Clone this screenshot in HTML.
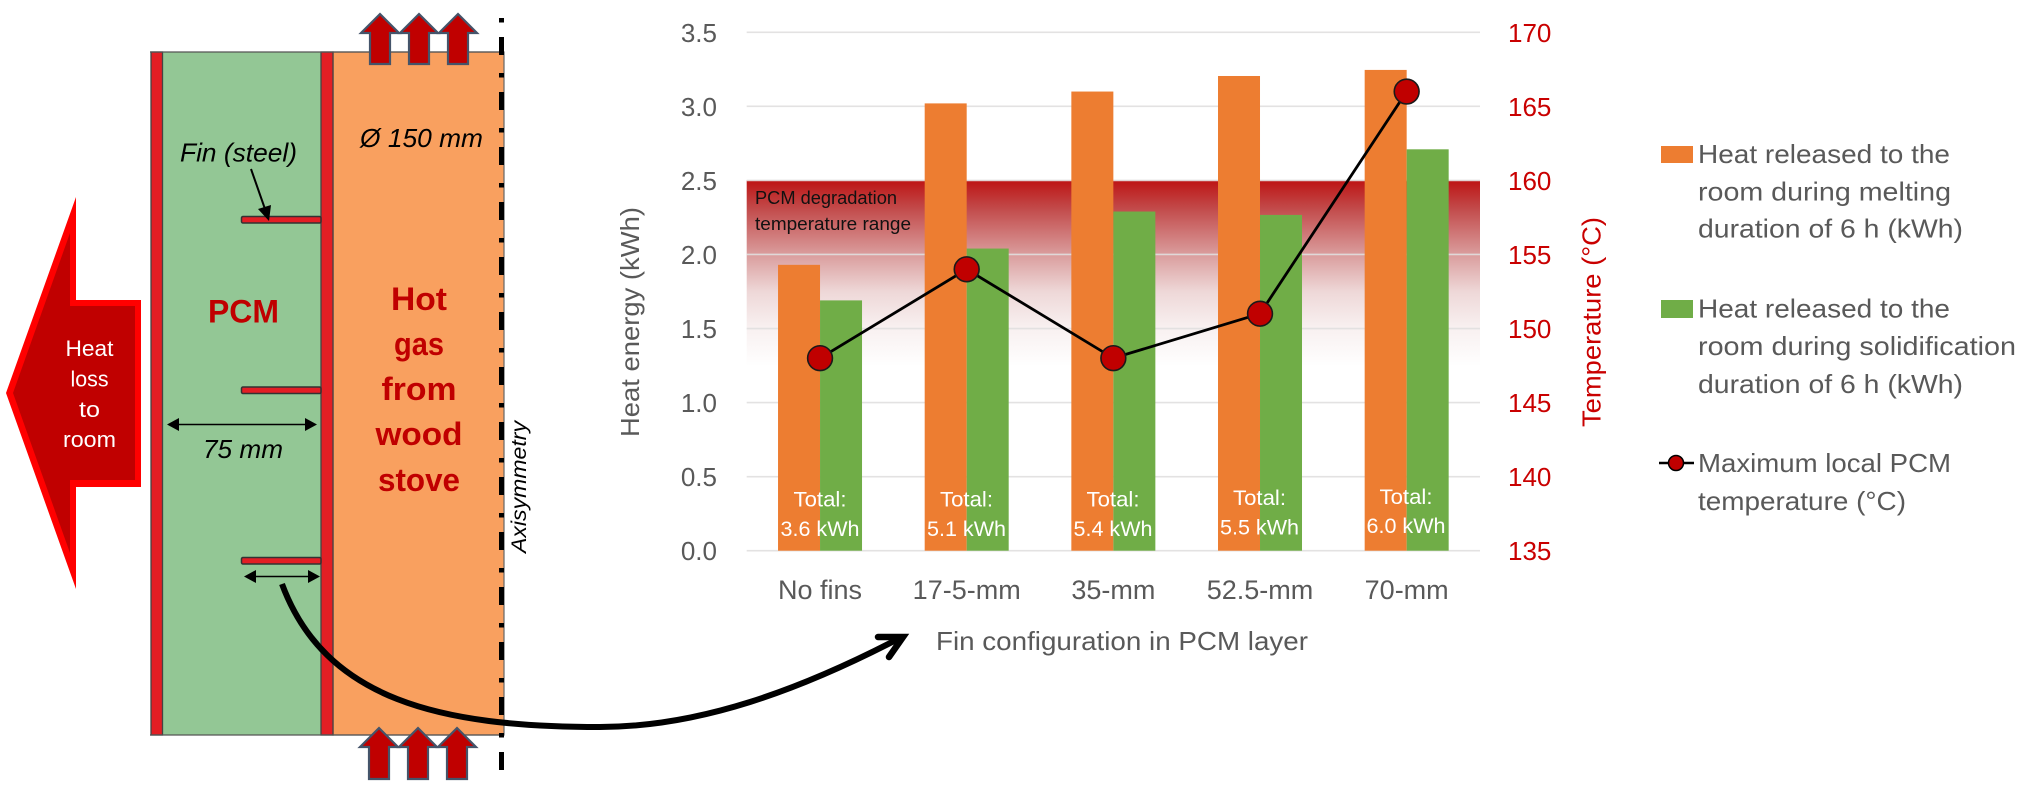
<!DOCTYPE html>
<html lang="en">
<head>
<meta charset="utf-8">
<title>PCM fin configuration chart</title>
<style>
html,body{margin:0;padding:0;background:#fff;}
svg{display:block;}
text{font-family:"Liberation Sans",sans-serif;}
.d{font-size:26px;font-style:italic;fill:#000;}
.hot{font-size:32px;font-weight:bold;fill:#c00000;text-anchor:middle;}
.loss{font-size:22px;fill:#fff;text-anchor:middle;}
.lg{font-size:26px;fill:#595959;}
.tot{font-size:21px;fill:#fff;text-anchor:middle;}
</style>
</head>
<body>
<svg id="root" xmlns="http://www.w3.org/2000/svg" width="2024" height="807" viewBox="0 0 2024 807">
<defs>
<linearGradient id="band" x1="0" y1="0" x2="0" y2="1">
<stop offset="0" stop-color="#bd1414"/>
<stop offset="0.15" stop-color="#c24a4a"/>
<stop offset="0.39" stop-color="#d99a9a"/>
<stop offset="0.6" stop-color="#eed8d8"/>
<stop offset="0.79" stop-color="#f8f0f0"/>
<stop offset="1" stop-color="#ffffff"/>
</linearGradient>
</defs>

<g>
<polygon points="6,393 76,197 76,300 141,300 141,487 76,487 76,589" fill="#ff0000"/>
<polygon points="13,393 70,233 70,306 135,306 135,480 70,480 70,553" fill="#c00000"/>
<text class="loss" x="89.5" y="356" textLength="48" lengthAdjust="spacingAndGlyphs">Heat</text>
<text class="loss" x="89.5" y="386.5" textLength="38" lengthAdjust="spacingAndGlyphs">loss</text>
<text class="loss" x="89.5" y="417" textLength="21" lengthAdjust="spacingAndGlyphs">to</text>
<text class="loss" x="89.5" y="447" textLength="53" lengthAdjust="spacingAndGlyphs">room</text>
</g>

<g>
<rect x="162" y="52" width="159" height="683" fill="#93c795"/>
<rect x="333" y="52" width="171" height="683" fill="#f9a05f" stroke="#666" stroke-width="1.2"/>
<rect x="151" y="52" width="11.5" height="683" fill="#e31e24" stroke="#444" stroke-width="1.3"/>
<rect x="321" y="52" width="12" height="683" fill="#e31e24" stroke="#444" stroke-width="1.3"/>
<line x1="150" y1="52" x2="504" y2="52" stroke="#555" stroke-width="1.2"/>
<line x1="150" y1="735" x2="504" y2="735" stroke="#555" stroke-width="1.2"/>
<rect x="241.5" y="216.5" width="79.5" height="6.5" rx="1.5" fill="#e31e24" stroke="#333" stroke-width="1.5"/>
<rect x="241.5" y="387" width="79.5" height="6.5" rx="1.5" fill="#e31e24" stroke="#333" stroke-width="1.5"/>
<rect x="241.5" y="557.5" width="79.5" height="6.5" rx="1.5" fill="#e31e24" stroke="#333" stroke-width="1.5"/>

<g>
<line x1="251" y1="169" x2="265" y2="209" stroke="#000" stroke-width="2"/>
<polygon points="269,221 258,209 271,205" fill="#000"/>
</g>
<g>
<line x1="175" y1="424.5" x2="310" y2="424.5" stroke="#000" stroke-width="1.5"/>
<polygon points="167,424.5 179,418 179,431" fill="#000"/>
<polygon points="317,424.5 305,418 305,431" fill="#000"/>
</g>
<g>
<line x1="250" y1="576.5" x2="314" y2="576.5" stroke="#000" stroke-width="1.5"/>
<polygon points="244,576.5 256,570 256,583" fill="#000"/>
<polygon points="320,576.5 308,570 308,583" fill="#000"/>
</g>

<text class="d" x="180" y="161.5" textLength="117" lengthAdjust="spacingAndGlyphs">Fin (steel)</text>
<text class="d" x="360" y="147" textLength="123" lengthAdjust="spacingAndGlyphs">Ø 150 mm</text>
<text class="d" x="203" y="458" textLength="80" lengthAdjust="spacingAndGlyphs">75 mm</text>
<text x="208" y="322.5" textLength="71" lengthAdjust="spacingAndGlyphs" style="font-size:32px;font-weight:bold;fill:#c00000">PCM</text>
<text class="hot" x="419" y="310" textLength="56" lengthAdjust="spacingAndGlyphs">Hot</text>
<text class="hot" x="419" y="355" textLength="50" lengthAdjust="spacingAndGlyphs">gas</text>
<text class="hot" x="419" y="400" textLength="75" lengthAdjust="spacingAndGlyphs">from</text>
<text class="hot" x="419" y="445" textLength="87" lengthAdjust="spacingAndGlyphs">wood</text>
<text class="hot" x="419" y="491" textLength="82" lengthAdjust="spacingAndGlyphs">stove</text>
</g>

<line x1="501.5" y1="18" x2="501.5" y2="771" stroke="#000" stroke-width="5" stroke-dasharray="4.5 14.5 18 18"/>
<text transform="translate(526,553) rotate(-90)" x="0" y="0" textLength="132" lengthAdjust="spacingAndGlyphs" style="font-size:21px;font-style:italic;fill:#000">Axisymmetry</text>

<g fill="#c00000" stroke="#44546a" stroke-width="2.2">
<polygon points="380,14 399,33 390,33 390,64 370,64 370,33 361,33"/>
<polygon points="419,14 438,33 429,33 429,64 409,64 409,33 400,33"/>
<polygon points="458,14 477,33 468,33 468,64 448,64 448,33 439,33"/>
</g>
<g fill="#c00000" stroke="#44546a" stroke-width="2.2">
<polygon points="379,728 398,747 389,747 389,779 369,779 369,747 360,747"/>
<polygon points="418,728 437,747 428,747 428,779 408,779 408,747 399,747"/>
<polygon points="457,728 476,747 467,747 467,779 447,779 447,747 438,747"/>
</g>

<g id="chart">
<g id="grad-holder"></g>
<g id="grid"></g>
<g id="bars"></g>
<g>
<text class="tot" x="820" y="506.5" textLength="53" lengthAdjust="spacingAndGlyphs">Total:</text>
<text class="tot" x="820" y="536" textLength="79" lengthAdjust="spacingAndGlyphs">3.6 kWh</text>
<text class="tot" x="966.5" y="506.5" textLength="53" lengthAdjust="spacingAndGlyphs">Total:</text>
<text class="tot" x="966.5" y="536" textLength="79" lengthAdjust="spacingAndGlyphs">5.1 kWh</text>
<text class="tot" x="1113" y="506.5" textLength="53" lengthAdjust="spacingAndGlyphs">Total:</text>
<text class="tot" x="1113" y="536" textLength="79" lengthAdjust="spacingAndGlyphs">5.4 kWh</text>
<text class="tot" x="1259.5" y="505" textLength="53" lengthAdjust="spacingAndGlyphs">Total:</text>
<text class="tot" x="1259.5" y="534.5" textLength="79" lengthAdjust="spacingAndGlyphs">5.5 kWh</text>
<text class="tot" x="1406" y="504" textLength="53" lengthAdjust="spacingAndGlyphs">Total:</text>
<text class="tot" x="1406" y="533" textLength="79" lengthAdjust="spacingAndGlyphs">6.0 kWh</text>
</g>
<g id="line-layer"></g>
<g id="ticks"></g>
<text x="755" y="204" textLength="142" lengthAdjust="spacingAndGlyphs" style="font-size:18px;fill:#111">PCM degradation</text>
<text x="755" y="230" textLength="156" lengthAdjust="spacingAndGlyphs" style="font-size:18px;fill:#111">temperature range</text>
<text transform="translate(639,437) rotate(-90)" textLength="230" lengthAdjust="spacingAndGlyphs" style="font-size:26px;fill:#595959">Heat energy (kWh)</text>
<text transform="translate(1600.5,427) rotate(-90)" textLength="210" lengthAdjust="spacingAndGlyphs" style="font-size:26px;fill:#c90000">Temperature (°C)</text>
<text x="936" y="650" textLength="372" lengthAdjust="spacingAndGlyphs" style="font-size:26px;fill:#595959">Fin configuration in PCM layer</text>
</g>

<g>
<rect x="1661" y="146" width="32" height="17" fill="#ed7d31"/>
<text class="lg" x="1698" y="163" textLength="252" lengthAdjust="spacingAndGlyphs">Heat released to the</text>
<text class="lg" x="1698" y="200.5" textLength="253" lengthAdjust="spacingAndGlyphs">room during melting</text>
<text class="lg" x="1698" y="237.5" textLength="265" lengthAdjust="spacingAndGlyphs">duration of 6 h (kWh)</text>
<rect x="1661" y="300" width="32" height="18" fill="#70ad47"/>
<text class="lg" x="1698" y="317.5" textLength="252" lengthAdjust="spacingAndGlyphs">Heat released to the</text>
<text class="lg" x="1698" y="355" textLength="318" lengthAdjust="spacingAndGlyphs">room during solidification</text>
<text class="lg" x="1698" y="393" textLength="265" lengthAdjust="spacingAndGlyphs">duration of 6 h (kWh)</text>
<g>
<line x1="1659" y1="463" x2="1694" y2="463" stroke="#000" stroke-width="2.5"/>
<circle cx="1676" cy="463" r="7.5" fill="#c00000" stroke="#000" stroke-width="1.5"/>
</g>
<text class="lg" x="1698" y="472" textLength="253" lengthAdjust="spacingAndGlyphs">Maximum local PCM</text>
<text class="lg" x="1698" y="510" textLength="208" lengthAdjust="spacingAndGlyphs">temperature (°C)</text>
</g>

<g fill="none" stroke="#000">
<path d="M282 584 C325 700 440 727 600 727 C700 727 800 690 900 638" stroke-width="6"/>
<polyline points="878,637 903,637 889,657" stroke-width="6.5" stroke-linecap="round" stroke-linejoin="miter"/>
</g>
</svg>

<script>
const categories = ["No fins", "17-5-mm", "35-mm", "52.5-mm", "70-mm"];
const meltingHeat = [1.93, 3.02, 3.10, 3.205, 3.246];
const solidificationHeat = [1.69, 2.04, 2.29, 2.267, 2.71];
const maxTemperature = [148, 154, 148, 151, 166];
const leftTicks = ["0.0", "0.5", "1.0", "1.5", "2.0", "2.5", "3.0", "3.5"];
const rightTicks = ["135", "140", "145", "150", "155", "160", "165", "170"];
const degradationStart = 2.5;

const NS = "http://www.w3.org/2000/svg";
const AXIS_BASE = 550.7;
const AXIS_TOP = 32.3;
const PLOT_LEFT = 746.7;
const PLOT_RIGHT = 1480;
const BAR_WIDTH = 42;
const leftMax = parseFloat(leftTicks[leftTicks.length - 1]);
const rightMin = parseFloat(rightTicks[0]);
const rightMax = parseFloat(rightTicks[rightTicks.length - 1]);

function xCenter(i) {
  return PLOT_LEFT + (i + 0.5) * (PLOT_RIGHT - PLOT_LEFT) / categories.length;
}
function yLeft(v) {
  return AXIS_BASE - (v / leftMax) * (AXIS_BASE - AXIS_TOP);
}
function yRight(v) {
  return AXIS_BASE - ((v - rightMin) / (rightMax - rightMin)) * (AXIS_BASE - AXIS_TOP);
}
function make(tag, attrs, parent) {
  const el = document.createElementNS(NS, tag);
  for (const k in attrs) el.setAttribute(k, attrs[k]);
  parent.appendChild(el);
  return el;
}

const gradHolder = document.getElementById("grad-holder");
const gridLayer = document.getElementById("grid");
const barLayer = document.getElementById("bars");
const lineLayer = document.getElementById("line-layer");
const tickLayer = document.getElementById("ticks");

const bandTop = yLeft(degradationStart);
const band = make("rect", {x: PLOT_LEFT, y: bandTop, width: PLOT_RIGHT - PLOT_LEFT, height: 186, fill: "url(#band)"}, gradHolder);



leftTicks.forEach(function (t) {
  const y = yLeft(parseFloat(t));
  const g = make("line", {x1: PLOT_LEFT, x2: PLOT_RIGHT, y1: y, y2: y, stroke: "#e0dfdf", "stroke-width": 1.6, "stroke-opacity": 0.9}, gridLayer);
  
  
  const lab = make("text", {x: 717, y: y + 9.5, "text-anchor": "end", "font-size": 26, fill: "#595959"}, tickLayer);
  
  
  lab.textContent = t;
});

rightTicks.forEach(function (t) {
  const y = yRight(parseFloat(t));
  const lab = make("text", {x: 1508, y: y + 9.5, "font-size": 26, fill: "#c90000"}, tickLayer);
  
  
  lab.textContent = t;
});

categories.forEach(function (c, i) {
  const cx = xCenter(i);
  const yM = yLeft(meltingHeat[i]);
  const yS = yLeft(solidificationHeat[i]);
  const m = make("rect", {x: cx - BAR_WIDTH, y: yM, width: BAR_WIDTH, height: AXIS_BASE - yM, fill: "#ed7d31"}, barLayer);
  
  
  const s = make("rect", {x: cx, y: yS, width: BAR_WIDTH, height: AXIS_BASE - yS, fill: "#70ad47"}, barLayer);
  
  
  const lab = make("text", {x: cx, y: 599, "text-anchor": "middle", "font-size": 27, fill: "#595959"}, tickLayer);
  
  
  lab.textContent = c;
});

const pts = maxTemperature.map(function (v, i) { return xCenter(i) + "," + yRight(v); }).join(" ");
const poly = make("polyline", {points: pts, fill: "none", stroke: "#000", "stroke-width": 2.8}, lineLayer);


maxTemperature.forEach(function (v, i) {
  const p = make("circle", {cx: xCenter(i), cy: yRight(v), r: 12.4, fill: "#c00000", stroke: "#1a1a1a", "stroke-width": 1.6}, lineLayer);
  
  
});
</script>
</body>
</html>
